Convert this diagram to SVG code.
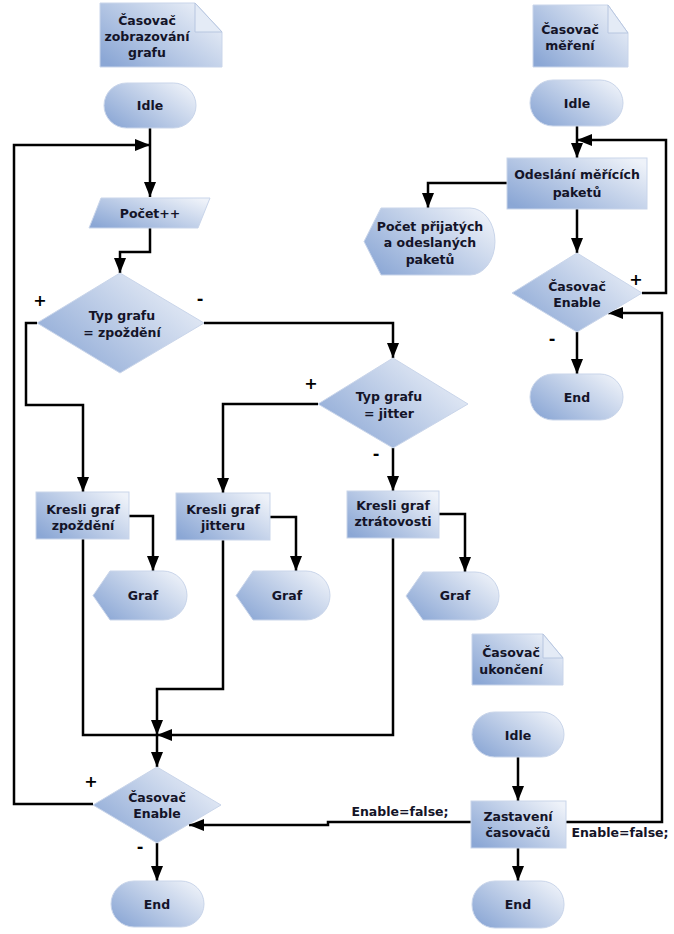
<svg xmlns="http://www.w3.org/2000/svg" width="674" height="934" viewBox="0 0 674 934">
<defs>
<linearGradient id="g" x1="0" y1="0.85" x2="1" y2="0.15">
<stop offset="0" stop-color="#8ba7d5"/>
<stop offset="1" stop-color="#eef2f9"/>
</linearGradient>
<marker id="ar" markerUnits="userSpaceOnUse" markerWidth="15" markerHeight="12" refX="15" refY="6" orient="auto">
<path d="M0,0 L15,6 L0,12 Z" fill="#000"/>
</marker>
</defs>
<style>
.s{fill:url(#g);stroke:#c9d5ea;stroke-width:1}
.fold{fill:#e4ebf6;stroke:#b7c6e0;stroke-width:1}
.t{font-family:"DejaVu Sans",Verdana,sans-serif;font-weight:bold;font-size:12.5px;fill:#141428;text-anchor:middle}
.sg{font-family:"DejaVu Sans",Verdana,sans-serif;font-weight:bold;font-size:16px;fill:#000;text-anchor:middle}
.c{fill:none;stroke:#000;stroke-width:2.5}
.a{marker-end:url(#ar)}
</style>
<rect width="674" height="934" fill="#fff"/>

<g id="connectors">
<path class="c a" d="M150,128 V197"/>
<path class="c a" d="M93,804 H14 V145 H150"/>
<path class="c a" d="M150,228 V252 H120 V273"/>
<path class="c a" d="M37,323 H26 V405 H83 V492"/>
<path class="c a" d="M204,323 H393 V358"/>
<path class="c a" d="M318,404 H223 V493"/>
<path class="c a" d="M393,448 V491"/>
<path class="c a" d="M129,516 H153 V571"/>
<path class="c a" d="M270,517 H296 V571"/>
<path class="c a" d="M439,514 H465 V572"/>
<path class="c" d="M83,539 V735 H157"/>
<path class="c a" d="M223,540 V689 H157 V735"/>
<path class="c a" d="M393,538 V735 H157"/>
<path class="c a" d="M157,735 V767"/>
<path class="c a" d="M157,843 V881"/>
<path class="c a" d="M577,126 V158"/>
<path class="c a" d="M642,293 H666 V140 H577"/>
<path class="c a" d="M507,183 H428 V208"/>
<path class="c a" d="M577,209 V253"/>
<path class="c a" d="M577,332 V374"/>
<path class="c a" d="M518,757 V801"/>
<path class="c a" d="M518,848 V881"/>
<path class="c a" d="M471,822 H328 V825 H189"/>
<path class="c a" d="M566,822 H662 V313 H608"/>
<text class="t" x="400" y="816">Enable=false;</text>
<text class="t" x="620" y="837">Enable=false;</text>
<text class="sg" x="40" y="306">+</text>
<text class="sg" x="200" y="304">-</text>
<text class="sg" x="311" y="389">+</text>
<text class="sg" x="376" y="459">-</text>
<text class="sg" x="91" y="787">+</text>
<text class="sg" x="140" y="852">-</text>
<text class="sg" x="636" y="285">+</text>
<text class="sg" x="552" y="344">-</text>
</g>

<g id="note1">
<path class="s" d="M100,3 H195 L222,32 V67 H100 Z"/>
<path class="fold" d="M195,3 V32 H222 Z"/>
<text class="t" x="147" y="25">Časovač</text>
<text class="t" x="147" y="41">zobrazování</text>
<text class="t" x="147" y="57">grafu</text>
</g>
<g id="idle1">
<rect class="s" x="104" y="83" width="92" height="45" rx="22.5"/>
<text class="t" x="150" y="110">Idle</text>
</g>
<g id="pocet">
<path class="s" d="M101,198 H210 L198,228 H89 Z"/>
<text class="t" x="150" y="218">Počet++</text>
</g>
<g id="d1">
<path class="s" d="M120,273 L204,323 L120,373 L37,323 Z"/>
<text class="t" x="122" y="320">Typ grafu</text>
<text class="t" x="122" y="337">= zpoždění</text>
</g>
<g id="d2">
<path class="s" d="M393,358 L468,404 L393,448 L318,404 Z"/>
<text class="t" x="389" y="401">Typ grafu</text>
<text class="t" x="389" y="418">= jitter</text>
</g>
<g id="k1">
<rect class="s" x="36" y="492" width="93" height="47"/>
<text class="t" x="83" y="514">Kresli graf</text>
<text class="t" x="83" y="530">zpoždění</text>
</g>
<g id="k2">
<rect class="s" x="176" y="493" width="94" height="47"/>
<text class="t" x="223" y="514">Kresli graf</text>
<text class="t" x="223" y="530">jitteru</text>
</g>
<g id="k3">
<rect class="s" x="347" y="491" width="92" height="47"/>
<text class="t" x="393" y="510">Kresli graf</text>
<text class="t" x="393" y="526">ztrátovosti</text>
</g>
<g id="graf1">
<path class="s" d="M93,595.5 L110,571 H163 A24,24.5 0 0 1 163,620 H110 Z"/>
<text class="t" x="143" y="600">Graf</text>
</g>
<g id="graf2">
<path class="s" d="M236,595.5 L253,571 H306 A24,24.5 0 0 1 306,620 H253 Z"/>
<text class="t" x="287" y="600">Graf</text>
</g>
<g id="graf3">
<path class="s" d="M406,596 L423,572 H475 A24,24 0 0 1 475,620 H423 Z"/>
<text class="t" x="455" y="600">Graf</text>
</g>
<g id="d3">
<path class="s" d="M157,767 L221,805 L157,843 L93,805 Z"/>
<text class="t" x="157" y="802">Časovač</text>
<text class="t" x="157" y="818">Enable</text>
</g>
<g id="end1">
<rect class="s" x="111" y="881" width="93" height="46" rx="23"/>
<text class="t" x="157" y="909">End</text>
</g>

<g id="note2">
<path class="s" d="M533,5 H608 L628,33 V67 H533 Z"/>
<path class="fold" d="M608,5 V33 H628 Z"/>
<text class="t" x="570" y="34">Časovač</text>
<text class="t" x="570" y="50">měření</text>
</g>
<g id="idle2">
<rect class="s" x="530" y="80" width="93" height="46" rx="23"/>
<text class="t" x="577" y="108">Idle</text>
</g>
<g id="odeslani">
<rect class="s" x="507" y="158" width="140" height="51"/>
<text class="t" x="577" y="179">Odeslání měřících</text>
<text class="t" x="577" y="197">paketů</text>
</g>
<g id="pocetprijatych">
<path class="s" d="M364,241.5 L381,208 H470 A25,33.5 0 0 1 470,275 H381 Z"/>
<text class="t" x="430" y="231">Počet přijatých</text>
<text class="t" x="430" y="247">a odeslaných</text>
<text class="t" x="430" y="264">paketů</text>
</g>
<g id="d4">
<path class="s" d="M577,253 L642,293 L577,332 L512,293 Z"/>
<text class="t" x="577" y="291">Časovač</text>
<text class="t" x="577" y="307">Enable</text>
</g>
<g id="end2">
<rect class="s" x="530" y="374" width="93" height="46" rx="23"/>
<text class="t" x="577" y="402">End</text>
</g>

<g id="note3">
<path class="s" d="M472,634 H543 L563,658 V685 H472 Z"/>
<path class="fold" d="M543,634 V658 H563 Z"/>
<text class="t" x="511" y="657">Časovač</text>
<text class="t" x="511" y="674">ukončení</text>
</g>
<g id="idle3">
<rect class="s" x="472" y="712" width="92" height="45" rx="22.5"/>
<text class="t" x="518" y="740">Idle</text>
</g>
<g id="zastaveni">
<rect class="s" x="471" y="801" width="95" height="47"/>
<text class="t" x="518" y="821">Zastavení</text>
<text class="t" x="518" y="837">časovačů</text>
</g>
<g id="end3">
<rect class="s" x="472" y="881" width="92" height="47" rx="23"/>
<text class="t" x="518" y="909">End</text>
</g>
</svg>
